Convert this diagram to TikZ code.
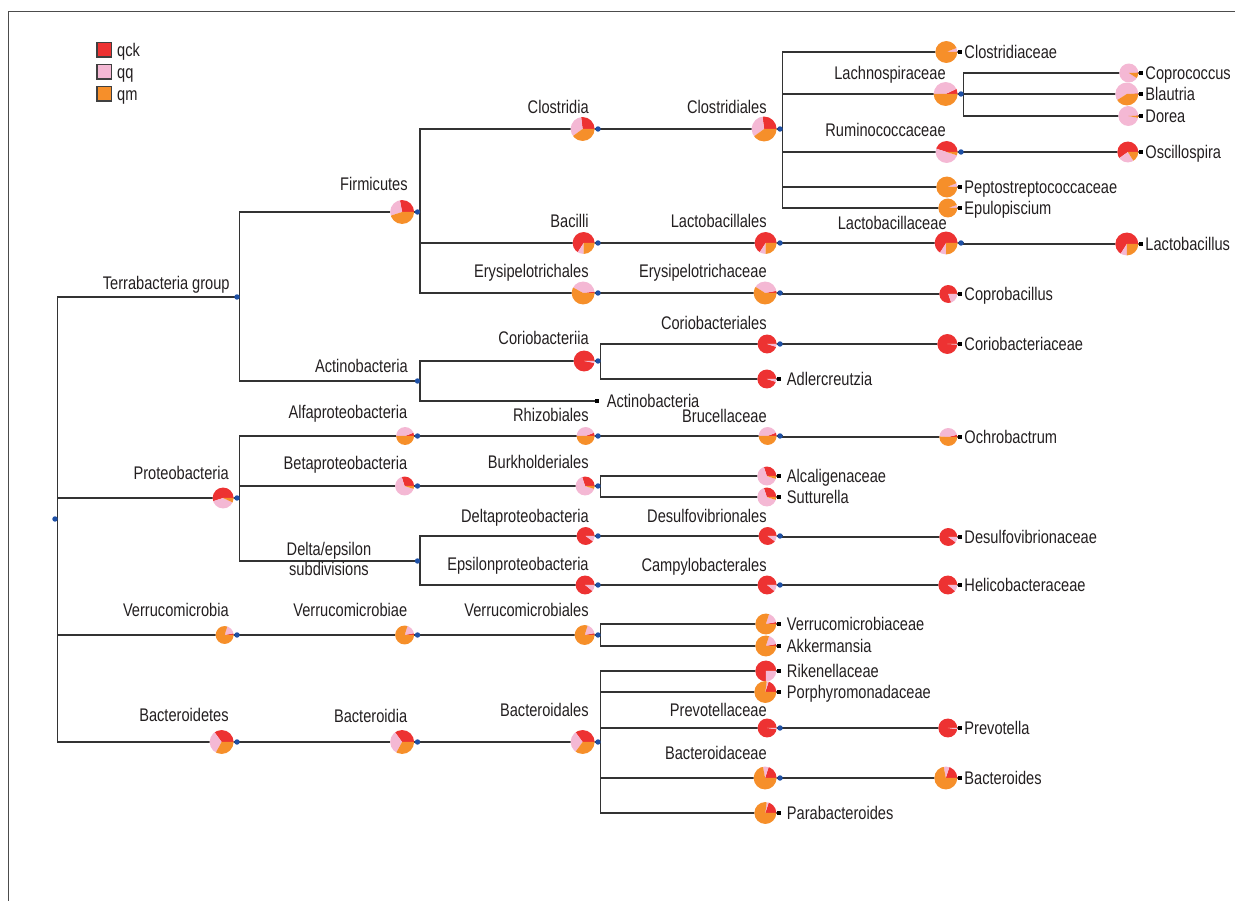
\documentclass[tikz,border=0pt]{standalone}
\usepackage{fontspec}
\setmainfont[FakeStretch=0.8]{Liberation Sans}
\usetikzlibrary{positioning,backgrounds}
\definecolor{qck}{RGB}{237,50,50}
\definecolor{qq}{RGB}{244,184,212}
\definecolor{qm}{RGB}{246,143,42}
\definecolor{dotblue}{RGB}{30,80,165}
\definecolor{ink}{RGB}{35,31,32}
\tikzset{
  taxpie/.style n args={4}{circle, inner sep=0pt, minimum size=#1*0.5669pt, fill=white,
    path picture={
      \fill[qck] (path picture bounding box.center) -- ++(0:10pt) arc[start angle=0, end angle={360*#2}, radius=10pt] -- cycle;
      \fill[qq] (path picture bounding box.center) -- ++({360*#2}:10pt) arc[start angle={360*#2}, end angle={360*(#2+#3)}, radius=10pt] -- cycle;
      \fill[qm] (path picture bounding box.center) -- ++({360*(#2+#3)}:10pt) arc[start angle={360*(#2+#3)}, end angle=360, radius=10pt] -- cycle;
    }},
  bdot/.style={circle, fill=dotblue, inner sep=0pt, minimum size=3.1pt},
  sq/.style={fill=black, inner sep=0pt, minimum size=2.3pt},
  toplab/.style={anchor=base east, inner sep=0pt, text=ink},
  leaflab/.style={inner sep=0pt, text height=9pt, text depth=2pt, text=ink},
  branch/.style={line width=0.75pt, draw=black!80},
  legsq/.style={draw=black!75, line width=0.6pt, minimum size=8pt, inner sep=0pt}
}
\begin{document}
\begin{tikzpicture}[x=0.02cm, y=0.02cm, font=\fontsize{10.4}{12.4}\selectfont]
\useasboundingbox (0,0) rectangle (1235,-901);
\draw[black!70, line width=0.5pt] (8,-901) -- (8,-11) -- (1235,-11);

\node[legsq, fill=qck] (leg-qck) at (104,-50) {};
\node[leaflab, right=3pt of leg-qck] (leg-qck-l) {qck};
\node[legsq, fill=qq] (leg-qq) at (104,-72) {};
\node[leaflab, right=3pt of leg-qq] (leg-qq-l) {qq};
\node[legsq, fill=qm] (leg-qm) at (104,-94) {};
\node[leaflab, right=3pt of leg-qm] (leg-qm-l) {qm};

\node[bdot] (root) at (55,-519) {};

\node[bdot] (terra-d) at (237,-297) {};
\node[toplab] (terra-l) at (230,-290) {Terrabacteria group};

\node[bdot] (firm-d) at (417.5,-212) {};
\node[taxpie={24}{.28}{.27}{.45}, left=0pt of firm-d] (firm) {};
\node[toplab] (firm-l) at (408,-191) {Firmicutes};

\node[bdot] (clost-d) at (598,-129) {};
\node[taxpie={24}{.27}{.33}{.40}, left=0pt of clost-d] (clost) {};
\node[toplab] (clost-l) at (589,-114) {Clostridia};

\node[bdot] (clostr-d) at (780,-129) {};
\node[taxpie={25}{.27}{.33}{.40}, left=0pt of clostr-d] (clostr) {};
\node[toplab] (clostr-l) at (767,-114) {Clostridiales};

\node[sq] (clostc-s) at (960,-52) {};
\node[taxpie={22}{0}{.06}{.94}, left=0pt of clostc-s] (clostc) {};
\node[leaflab, right=1pt of clostc-s] (clostc-l) {Clostridiaceae};

\node[bdot] (lachno-d) at (961,-94) {};
\node[taxpie={24}{.07}{.43}{.50}, left=0pt of lachno-d] (lachno) {};
\node[toplab] (lachno-l) at (946,-80) {Lachnospiraceae};

\node[sq] (copro-s) at (1141,-73) {};
\node[taxpie={19}{.01}{.90}{.09}, left=0pt of copro-s] (copro) {};
\node[leaflab, right=1pt of copro-s] (copro-l) {Coprococcus};

\node[sq] (blaut-s) at (1141,-94) {};
\node[taxpie={23}{.01}{.58}{.41}, left=0pt of blaut-s] (blaut) {};
\node[leaflab, right=1pt of blaut-s] (blaut-l) {Blautria};

\node[sq] (dorea-s) at (1141,-116) {};
\node[taxpie={20}{.01}{.96}{.03}, left=0pt of dorea-s] (dorea) {};
\node[leaflab, right=1pt of dorea-s] (dorea-l) {Dorea};

\node[bdot] (rumino-d) at (961,-152) {};
\node[taxpie={22}{.45}{.50}{.05}, left=0pt of rumino-d] (rumino) {};
\node[toplab] (rumino-l) at (946,-137) {Ruminococcaceae};

\node[sq] (oscil-s) at (1141,-152) {};
\node[taxpie={21}{.60}{.24}{.16}, left=0pt of oscil-s] (oscil) {};
\node[leaflab, right=1pt of oscil-s] (oscil-l) {Oscillospira};

\node[sq] (pepto-s) at (960,-187) {};
\node[taxpie={21}{0}{.06}{.94}, left=0pt of pepto-s] (pepto) {};
\node[leaflab, right=1pt of pepto-s] (pepto-l) {Peptostreptococcaceae};

\node[sq] (epulo-s) at (960,-208) {};
\node[taxpie={19}{0}{.05}{.95}, left=0pt of epulo-s] (epulo) {};
\node[leaflab, right=1pt of epulo-s] (epulo-l) {Epulopiscium};

\node[bdot] (bacilli-d) at (598,-243) {};
\node[taxpie={22}{.66}{.09}{.25}, left=0pt of bacilli-d] (bacilli) {};
\node[toplab] (bacilli-l) at (589,-228) {Bacilli};

\node[bdot] (lactos-d) at (780,-243) {};
\node[taxpie={22}{.66}{.09}{.25}, left=0pt of lactos-d] (lactos) {};
\node[toplab] (lactos-l) at (767,-228) {Lactobacillales};

\node[bdot] (lactoc-d) at (961,-243) {};
\node[taxpie={23}{.66}{.09}{.25}, left=0pt of lactoc-d] (lactoc) {};
\node[toplab] (lactoc-l) at (947,-230) {Lactobacillaceae};

\node[sq] (lactob-s) at (1141,-244) {};
\node[taxpie={23}{.66}{.09}{.25}, left=0pt of lactob-s] (lactob) {};
\node[leaflab, right=1pt of lactob-s] (lactob-l) {Lactobacillus};

\node[bdot] (erysi-d) at (598,-293) {};
\node[taxpie={23}{.02}{.40}{.58}, left=0pt of erysi-d] (erysi) {};
\node[toplab] (erysi-l) at (589,-278) {Erysipelotrichales};

\node[bdot] (erysc-d) at (780,-293) {};
\node[taxpie={23}{.03}{.38}{.59}, left=0pt of erysc-d] (erysc) {};
\node[toplab] (erysc-l) at (767,-278) {Erysipelotrichaceae};

\node[sq] (coprob-s) at (960,-294) {};
\node[taxpie={18}{.80}{.20}{0}, left=0pt of coprob-s] (coprob) {};
\node[leaflab, right=1pt of coprob-s] (coprob-l) {Coprobacillus};

\node[bdot] (actino-d) at (417.5,-381) {};
\node[toplab] (actino-l) at (408,-373) {Actinobacteria};

\node[bdot] (corioi-d) at (598,-361) {};
\node[taxpie={21}{.97}{.03}{0}, left=0pt of corioi-d] (corioi) {};
\node[toplab] (corioi-l) at (589,-345) {Coriobacteriia};

\node[bdot] (corios-d) at (780,-344) {};
\node[taxpie={19}{.95}{.05}{0}, left=0pt of corios-d] (corios) {};
\node[toplab] (corios-l) at (767,-330) {Coriobacteriales};

\node[sq] (corioc-s) at (960,-344) {};
\node[taxpie={20}{.99}{.01}{0}, left=0pt of corioc-s] (corioc) {};
\node[leaflab, right=1pt of corioc-s] (corioc-l) {Coriobacteriaceae};

\node[sq] (adler-s) at (779,-379) {};
\node[taxpie={19}{.95}{.05}{0}, left=0pt of adler-s] (adler) {};
\node[leaflab, right=3pt of adler-s] (adler-l) {Adlercreutzia};

\node[sq] (actleaf-s) at (597,-401) {};
\node[leaflab, right=4pt of actleaf-s] (actleaf-l) {Actinobacteria};

\node[bdot] (proteo-d) at (237,-498) {};
\node[taxpie={21}{.55}{.38}{.07}, left=0pt of proteo-d] (proteo) {};
\node[toplab] (proteo-l) at (229,-480) {Proteobacteria};

\node[bdot] (alfa-d) at (417.5,-436) {};
\node[taxpie={18}{.06}{.44}{.50}, left=0pt of alfa-d] (alfa) {};
\node[toplab] (alfa-l) at (407.5,-419) {Alfaproteobacteria};

\node[bdot] (rhizo-d) at (598,-436) {};
\node[taxpie={18}{.06}{.44}{.50}, left=0pt of rhizo-d] (rhizo) {};
\node[toplab] (rhizo-l) at (589,-422) {Rhizobiales};

\node[bdot] (bruce-d) at (780,-436) {};
\node[taxpie={18}{.06}{.44}{.50}, left=0pt of bruce-d] (bruce) {};
\node[toplab] (bruce-l) at (767,-423) {Brucellaceae};

\node[sq] (ochro-s) at (960,-437) {};
\node[taxpie={18}{.04}{.45}{.51}, left=0pt of ochro-s] (ochro) {};
\node[leaflab, right=1pt of ochro-s] (ochro-l) {Ochrobactrum};

\node[bdot] (beta-d) at (417.5,-486) {};
\node[taxpie={19}{.30}{.65}{.05}, left=0pt of beta-d] (beta) {};
\node[toplab] (beta-l) at (407.5,-470) {Betaproteobacteria};

\node[bdot] (burk-d) at (598,-486) {};
\node[taxpie={19}{.30}{.65}{.05}, left=0pt of burk-d] (burk) {};
\node[toplab] (burk-l) at (589,-469) {Burkholderiales};

\node[sq] (alcal-s) at (779,-476) {};
\node[taxpie={19}{.30}{.65}{.05}, left=0pt of alcal-s] (alcal) {};
\node[leaflab, right=3pt of alcal-s] (alcal-l) {Alcaligenaceae};

\node[sq] (suttu-s) at (779,-497) {};
\node[taxpie={19}{.30}{.65}{.05}, left=0pt of suttu-s] (suttu) {};
\node[leaflab, right=3pt of suttu-s] (suttu-l) {Sutturella};

\node[bdot] (delteps-d) at (417.5,-561) {};
\node[inner sep=0pt, align=center, text=ink, font=\fontsize{10.4}{11.3}\selectfont] (delteps-l) at (329,-559) {Delta/epsilon\\subdivisions};

\node[bdot] (delta-d) at (598,-536) {};
\node[taxpie={18}{.90}{.10}{0}, left=0pt of delta-d] (delta) {};
\node[toplab] (delta-l) at (589,-523) {Deltaproteobacteria};

\node[bdot] (desulfo-d) at (780,-536) {};
\node[taxpie={18}{.90}{.10}{0}, left=0pt of desulfo-d] (desulfo) {};
\node[toplab] (desulfo-l) at (767,-523) {Desulfovibrionales};

\node[sq] (desulfc-s) at (960,-537) {};
\node[taxpie={18}{.90}{.10}{0}, left=0pt of desulfc-s] (desulfc) {};
\node[leaflab, right=1pt of desulfc-s] (desulfc-l) {Desulfovibrionaceae};

\node[bdot] (epsil-d) at (598,-585) {};
\node[taxpie={19}{.89}{.11}{0}, left=0pt of epsil-d] (epsil) {};
\node[toplab] (epsil-l) at (589,-571) {Epsilonproteobacteria};

\node[bdot] (campy-d) at (780,-585) {};
\node[taxpie={19}{.89}{.11}{0}, left=0pt of campy-d] (campy) {};
\node[toplab] (campy-l) at (767,-572) {Campylobacterales};

\node[sq] (helico-s) at (960,-585) {};
\node[taxpie={19}{.89}{.11}{0}, left=0pt of helico-s] (helico) {};
\node[leaflab, right=1pt of helico-s] (helico-l) {Helicobacteraceae};

\node[bdot] (verru-d) at (237,-635) {};
\node[taxpie={18}{.03}{.17}{.80}, left=0pt of verru-d] (verru) {};
\node[toplab] (verru-l) at (229,-617) {Verrucomicrobia};

\node[bdot] (verrue-d) at (417.5,-635) {};
\node[taxpie={19}{.03}{.17}{.80}, left=0pt of verrue-d] (verrue) {};
\node[toplab] (verrue-l) at (407.5,-617) {Verrucomicrobiae};

\node[bdot] (verrus-d) at (598,-635) {};
\node[taxpie={20}{.03}{.17}{.80}, left=0pt of verrus-d] (verrus) {};
\node[toplab] (verrus-l) at (589,-617) {Verrucomicrobiales};

\node[sq] (verruc-s) at (779,-624) {};
\node[taxpie={21}{.03}{.17}{.80}, left=0pt of verruc-s] (verruc) {};
\node[leaflab, right=3pt of verruc-s] (verruc-l) {Verrucomicrobiaceae};

\node[sq] (akker-s) at (779,-646) {};
\node[taxpie={21}{.03}{.17}{.80}, left=0pt of akker-s] (akker) {};
\node[leaflab, right=3pt of akker-s] (akker-l) {Akkermansia};

\node[bdot] (bact-d) at (237,-742) {};
\node[taxpie={24}{.35}{.32}{.33}, left=0pt of bact-d] (bact) {};
\node[toplab] (bact-l) at (229,-722) {Bacteroidetes};

\node[bdot] (bactia-d) at (417.5,-742) {};
\node[taxpie={24}{.35}{.32}{.33}, left=0pt of bactia-d] (bactia) {};
\node[toplab] (bactia-l) at (407.5,-723) {Bacteroidia};

\node[bdot] (bactales-d) at (598,-742) {};
\node[taxpie={24}{.35}{.30}{.35}, left=0pt of bactales-d] (bactales) {};
\node[toplab] (bactales-l) at (589,-717) {Bacteroidales};

\node[sq] (riken-s) at (779,-671) {};
\node[taxpie={21}{.75}{.25}{0}, left=0pt of riken-s] (riken) {};
\node[leaflab, right=3pt of riken-s] (riken-l) {Rikenellaceae};

\node[sq] (porphy-s) at (779,-692) {};
\node[taxpie={22}{.20}{.03}{.77}, left=0pt of porphy-s] (porphy) {};
\node[leaflab, right=3pt of porphy-s] (porphy-l) {Porphyromonadaceae};

\node[bdot] (prevo-d) at (780,-728) {};
\node[taxpie={19}{.98}{.02}{0}, left=0pt of prevo-d] (prevo) {};
\node[toplab] (prevo-l) at (767,-717) {Prevotellaceae};

\node[sq] (prevot-s) at (960,-728) {};
\node[taxpie={19}{.98}{.02}{0}, left=0pt of prevot-s] (prevot) {};
\node[leaflab, right=1pt of prevot-s] (prevot-l) {Prevotella};

\node[bdot] (bactac-d) at (780,-778) {};
\node[taxpie={23}{.20}{.08}{.72}, left=0pt of bactac-d] (bactac) {};
\node[toplab] (bactac-l) at (767,-760) {Bacteroidaceae};

\node[sq] (bacter-s) at (960,-778) {};
\node[taxpie={23}{.20}{.08}{.72}, left=0pt of bacter-s] (bacter) {};
\node[leaflab, right=1pt of bacter-s] (bacter-l) {Bacteroides};

\node[sq] (parab-s) at (779,-813) {};
\node[taxpie={22}{.20}{.03}{.77}, left=0pt of parab-s] (parab) {};
\node[leaflab, right=3pt of parab-s] (parab-l) {Parabacteroides};

\begin{pgfonlayer}{background}
\draw[branch] (root.center) -- ++(2.5,0) |- (terra-d.center);
\draw[branch] (root.center) -- ++(2.5,0) |- (proteo-d.center);
\draw[branch] (root.center) -- ++(2.5,0) |- (verru-d.center);
\draw[branch] (root.center) -- ++(2.5,0) |- (bact-d.center);
\draw[branch] (terra-d.center) -- ++(2.5,0) |- (firm-d.center);
\draw[branch] (terra-d.center) -- ++(2.5,0) |- (actino-d.center);
\draw[branch] (firm-d.center) -- ++(2.5,0) |- (clost-d.center);
\draw[branch] (firm-d.center) -- ++(2.5,0) |- (bacilli-d.center);
\draw[branch] (firm-d.center) -- ++(2.5,0) |- (erysi-d.center);
\draw[branch] (clost-d.center) -- ++(2.5,0) |- (clostr-d.center);
\draw[branch] (clostr-d.center) -- ++(2.5,0) |- (clostc-s.center);
\draw[branch] (clostr-d.center) -- ++(2.5,0) |- (lachno-d.center);
\draw[branch] (clostr-d.center) -- ++(2.5,0) |- (rumino-d.center);
\draw[branch] (clostr-d.center) -- ++(2.5,0) |- (pepto-s.center);
\draw[branch] (clostr-d.center) -- ++(2.5,0) |- (epulo-s.center);
\draw[branch] (lachno-d.center) -- ++(2.5,0) |- (copro-s.center);
\draw[branch] (lachno-d.center) -- ++(2.5,0) |- (blaut-s.center);
\draw[branch] (lachno-d.center) -- ++(2.5,0) |- (dorea-s.center);
\draw[branch] (rumino-d.center) -- ++(2.5,0) |- (oscil-s.center);
\draw[branch] (bacilli-d.center) -- ++(2.5,0) |- (lactos-d.center);
\draw[branch] (lactos-d.center) -- ++(2.5,0) |- (lactoc-d.center);
\draw[branch] (lactoc-d.center) -- ++(2.5,0) |- (lactob-s.center);
\draw[branch] (erysi-d.center) -- ++(2.5,0) |- (erysc-d.center);
\draw[branch] (erysc-d.center) -- ++(2.5,0) |- (coprob-s.center);
\draw[branch] (actino-d.center) -- ++(2.5,0) |- (corioi-d.center);
\draw[branch] (actino-d.center) -- ++(2.5,0) |- (actleaf-s.center);
\draw[branch] (corioi-d.center) -- ++(2.5,0) |- (corios-d.center);
\draw[branch] (corioi-d.center) -- ++(2.5,0) |- (adler-s.center);
\draw[branch] (corios-d.center) -- ++(2.5,0) |- (corioc-s.center);
\draw[branch] (proteo-d.center) -- ++(2.5,0) |- (alfa-d.center);
\draw[branch] (proteo-d.center) -- ++(2.5,0) |- (beta-d.center);
\draw[branch] (proteo-d.center) -- ++(2.5,0) |- (delteps-d.center);
\draw[branch] (alfa-d.center) -- ++(2.5,0) |- (rhizo-d.center);
\draw[branch] (rhizo-d.center) -- ++(2.5,0) |- (bruce-d.center);
\draw[branch] (bruce-d.center) -- ++(2.5,0) |- (ochro-s.center);
\draw[branch] (beta-d.center) -- ++(2.5,0) |- (burk-d.center);
\draw[branch] (burk-d.center) -- ++(2.5,0) |- (alcal-s.center);
\draw[branch] (burk-d.center) -- ++(2.5,0) |- (suttu-s.center);
\draw[branch] (delteps-d.center) -- ++(2.5,0) |- (delta-d.center);
\draw[branch] (delteps-d.center) -- ++(2.5,0) |- (epsil-d.center);
\draw[branch] (delta-d.center) -- ++(2.5,0) |- (desulfo-d.center);
\draw[branch] (desulfo-d.center) -- ++(2.5,0) |- (desulfc-s.center);
\draw[branch] (epsil-d.center) -- ++(2.5,0) |- (campy-d.center);
\draw[branch] (campy-d.center) -- ++(2.5,0) |- (helico-s.center);
\draw[branch] (verru-d.center) -- ++(2.5,0) |- (verrue-d.center);
\draw[branch] (verrue-d.center) -- ++(2.5,0) |- (verrus-d.center);
\draw[branch] (verrus-d.center) -- ++(2.5,0) |- (verruc-s.center);
\draw[branch] (verrus-d.center) -- ++(2.5,0) |- (akker-s.center);
\draw[branch] (bact-d.center) -- ++(2.5,0) |- (bactia-d.center);
\draw[branch] (bactia-d.center) -- ++(2.5,0) |- (bactales-d.center);
\draw[branch] (bactales-d.center) -- ++(2.5,0) |- (riken-s.center);
\draw[branch] (bactales-d.center) -- ++(2.5,0) |- (porphy-s.center);
\draw[branch] (bactales-d.center) -- ++(2.5,0) |- (prevo-d.center);
\draw[branch] (bactales-d.center) -- ++(2.5,0) |- (bactac-d.center);
\draw[branch] (bactales-d.center) -- ++(2.5,0) |- (parab-s.center);
\draw[branch] (prevo-d.center) -- ++(2.5,0) |- (prevot-s.center);
\draw[branch] (bactac-d.center) -- ++(2.5,0) |- (bacter-s.center);
\end{pgfonlayer}
\end{tikzpicture}
\end{document}
